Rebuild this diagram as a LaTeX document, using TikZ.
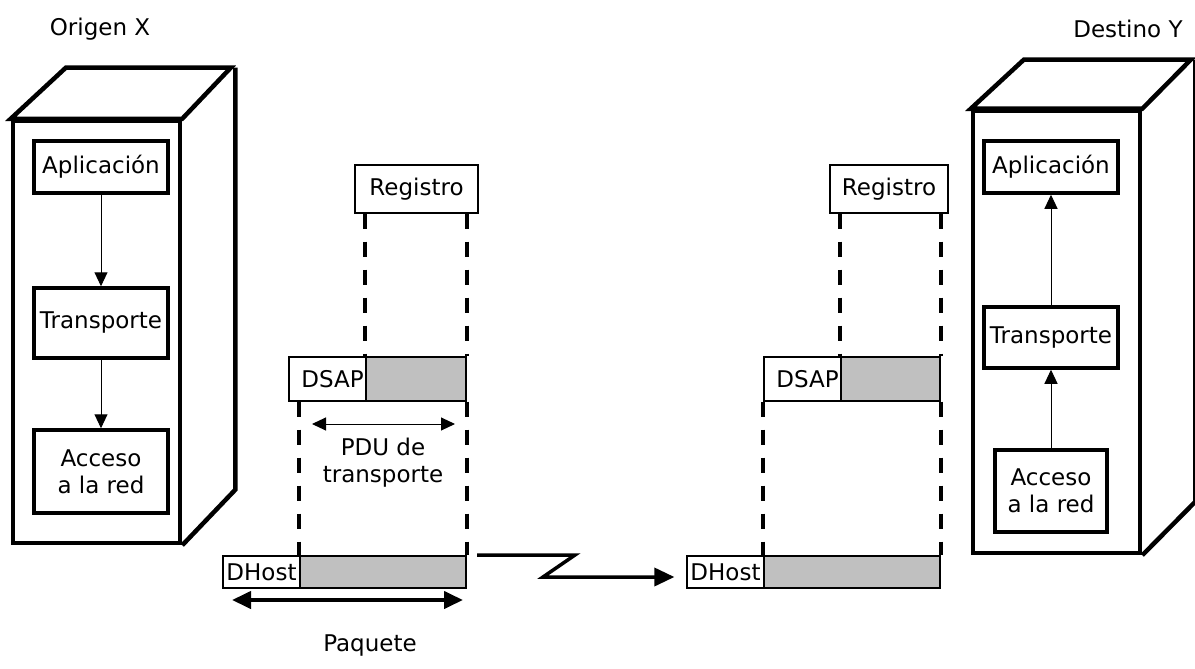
\documentclass[tikz,border=0pt]{standalone}
\usepackage{fontspec}
\setmainfont{DejaVu Sans}
\usetikzlibrary{arrows.meta}
\definecolor{pdugray}{HTML}{C0C0C0}
\begin{document}
\begin{tikzpicture}[x=1pt,y=-1pt,
  every node/.style={font=\fontsize{23}{27}\selectfont, inner sep=0pt},
  cab/.style={draw, line width=4.5pt, line join=miter},
  layer/.style={draw, line width=3.5pt, fill=white, align=center},
  flow/.style={line width=1pt, -{Triangle[length=14pt,width=13pt]}},
  tag/.style={draw, line width=1.2pt, fill=white},
  body/.style={draw, line width=1.2pt, fill=pdugray},
  guide/.style={line width=4pt, dash pattern=on 15pt off 13pt},
  span/.style={line width=1pt, {Triangle[length=14pt,width=13pt]}-{Triangle[length=14pt,width=13pt]}},
  wide/.style={line width=4pt, {Triangle[length=19pt,width=17pt]}-{Triangle[length=19pt,width=17pt]}},
  link/.style={line width=3.5pt, line join=miter, -{Triangle[length=20pt,width=18pt]}}]
\useasboundingbox (0,0) rectangle (1195,669);

% ---- titles
\node (tX) at (100,29) {Origen X};
\node (tY) at (1128,29) {Destino Y};

% ---- host X cabinet
\node[cab, minimum width=167pt, minimum height=422pt] (hostX) at (96.5,332) {};
\draw[cab] (hostX.north west) -- ++(55,-51) -- ++(165,0) -- (hostX.north east) -- cycle;
\draw[cab] (hostX.north east) ++(53,-51) -- ++(0,422) -- (hostX.south east);

\node[layer, minimum width=134pt, minimum height=52pt] (aX) at (101,167) {Aplicación};
\node[layer, minimum width=134pt, minimum height=70pt] (trX) at (101,323) {Transporte};
\node[layer, minimum width=134pt, minimum height=83pt] (acX) at (101,471.5) {Acceso\\a la red};
\draw[flow] (aX) -- (trX);
\draw[flow] (trX) -- (acX);

% ---- host Y cabinet
\node[cab, minimum width=167pt, minimum height=442pt] (hostY) at (1056.5,332) {};
\draw[cab] (hostY.north west) -- ++(53,-49) -- ++(167,0) -- (hostY.north east) -- cycle;
\draw[cab] (hostY.north east) ++(53,-49) -- ++(0,442) -- (hostY.south east);

\node[layer, minimum width=134pt, minimum height=52pt] (aY) at (1051,167) {Aplicación};
\node[layer, minimum width=134pt, minimum height=61pt] (trY) at (1051,337.5) {Transporte};
\node[layer, minimum width=112pt, minimum height=82pt] (acY) at (1051,491) {Acceso\\a la red};
\draw[flow] (acY) -- (trY);
\draw[flow] (trY) -- (aY);

% ---- PDUs at the sender
\node[tag, minimum width=123pt, minimum height=48pt] (regX) at (416.5,189) {Registro};
\node[tag, minimum width=77pt, minimum height=44pt] (dsapX) at (327.5,379) {\hspace*{10pt}DSAP};
\node[body, minimum width=100pt, minimum height=44pt] (tpduX) at (416,379) {};
\node[tag, minimum width=77pt, minimum height=32pt] (dhX) at (261.5,572) {DHost};
\node[body, minimum width=166pt, minimum height=32pt] (pktX) at (383,572) {};

\draw[guide] (tpduX.north west |- regX.south) -- (tpduX.north west);
\draw[guide] (tpduX.north east |- regX.south) -- (tpduX.north east);
\draw[guide] (pktX.north west |- dsapX.south) -- (pktX.north west);
\draw[guide] (pktX.north east |- tpduX.south) -- (pktX.north east);

\coordinate (pduL) at (312,424);
\coordinate (pduR) at (455,424);
\draw[span] (pduL) -- (pduR);
\node[align=center] (pduT) at (383,463) {PDU de\\transporte};

\coordinate (pqL) at (232,600);
\coordinate (pqR) at (463,600);
\draw[wide] (pqL) -- (pqR);
\node (pqT) at (370,646) {Paquete};

% ---- PDUs at the receiver
\node[tag, minimum width=118pt, minimum height=48pt] (regY) at (889,189) {Registro};
\node[tag, minimum width=77pt, minimum height=44pt] (dsapY) at (802.5,379) {\hspace*{10pt}DSAP};
\node[body, minimum width=99pt, minimum height=44pt] (tpduY) at (890.5,379) {};
\node[tag, minimum width=77pt, minimum height=32pt] (dhY) at (725.5,572) {DHost};
\node[body, minimum width=176pt, minimum height=32pt] (pktY) at (852,572) {};

\draw[guide] (tpduY.north west |- regY.south) -- (tpduY.north west);
\draw[guide] (tpduY.north east |- regY.south) -- (tpduY.north east);
\draw[guide] (pktY.north west |- dsapY.south) -- (pktY.north west);
\draw[guide] (pktY.north east |- tpduY.south) -- (pktY.north east);

% ---- network link
\coordinate (lk0) at (477,555);
\coordinate (lk1) at (575,555);
\coordinate (lk2) at (543,577);
\draw[link] (lk0) -- (lk1) -- (lk2) -- ([xshift=-12pt]dhY.west |- lk2);
\end{tikzpicture}
\end{document}
